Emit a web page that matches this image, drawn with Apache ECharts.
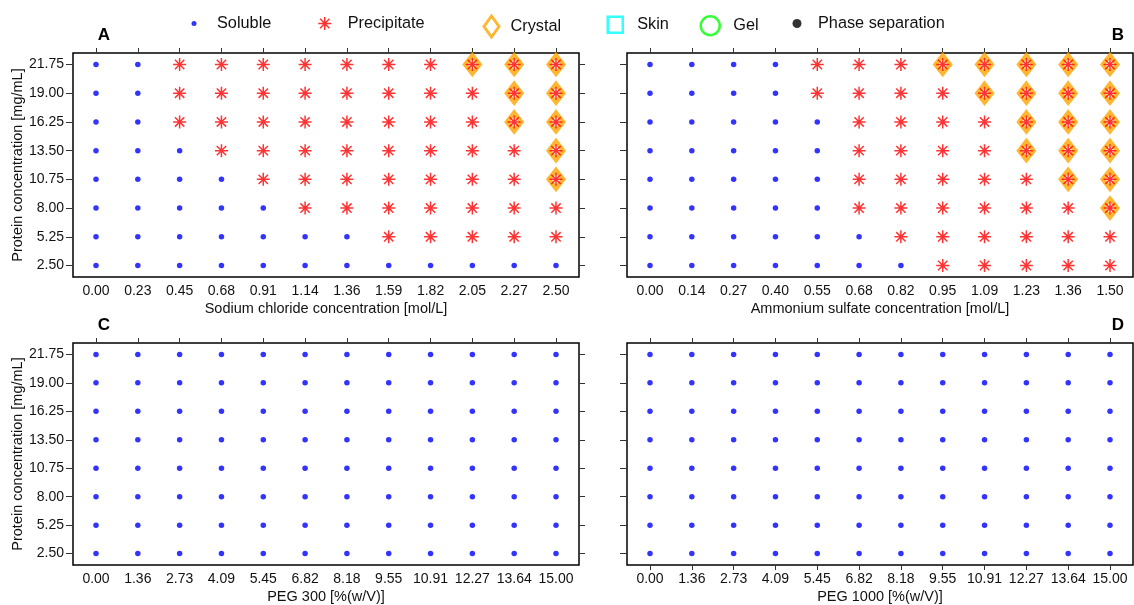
<!DOCTYPE html>
<html>
<head>
<meta charset="utf-8">
<script src="https://cdn.jsdelivr.net/npm/echarts@6/dist/echarts.min.js"></script>
<style>
  html, body { margin: 0; padding: 0; background: #fff; }
  #chart { width: 1134px; height: 605px; }
</style>
</head>
<body>
<div id="chart"></div>
<script>
// Protein concentration levels (rows, bottom to top)
const proteinLevels = ['2.50', '5.25', '8.00', '10.75', '13.50', '16.25', '19.00', '21.75'];

// Precipitant concentration levels (columns)
const naclLevels    = ['0.00', '0.23', '0.45', '0.68', '0.91', '1.14', '1.36', '1.59', '1.82', '2.05', '2.27', '2.50'];
const amso4Levels   = ['0.00', '0.14', '0.27', '0.40', '0.55', '0.68', '0.82', '0.95', '1.09', '1.23', '1.36', '1.50'];
const peg300Levels  = ['0.00', '1.36', '2.73', '4.09', '5.45', '6.82', '8.18', '9.55', '10.91', '12.27', '13.64', '15.00'];
const peg1000Levels = ['0.00', '1.36', '2.73', '4.09', '5.45', '6.82', '8.18', '9.55', '10.91', '12.27', '13.64', '15.00'];

// Observed outcome per well: 0 = soluble, 1 = precipitate, 2 = precipitate with crystals
// one row per protein level, bottom (2.50) to top (21.75)
const naclStates = [
  [0, 0, 0, 0, 0, 0, 0, 0, 0, 0, 0, 0],
  [0, 0, 0, 0, 0, 0, 0, 1, 1, 1, 1, 1],
  [0, 0, 0, 0, 0, 1, 1, 1, 1, 1, 1, 1],
  [0, 0, 0, 0, 1, 1, 1, 1, 1, 1, 1, 2],
  [0, 0, 0, 1, 1, 1, 1, 1, 1, 1, 1, 2],
  [0, 0, 1, 1, 1, 1, 1, 1, 1, 1, 2, 2],
  [0, 0, 1, 1, 1, 1, 1, 1, 1, 1, 2, 2],
  [0, 0, 1, 1, 1, 1, 1, 1, 1, 2, 2, 2]
];
const amso4States = [
  [0, 0, 0, 0, 0, 0, 0, 1, 1, 1, 1, 1],
  [0, 0, 0, 0, 0, 0, 1, 1, 1, 1, 1, 1],
  [0, 0, 0, 0, 0, 1, 1, 1, 1, 1, 1, 2],
  [0, 0, 0, 0, 0, 1, 1, 1, 1, 1, 2, 2],
  [0, 0, 0, 0, 0, 1, 1, 1, 1, 2, 2, 2],
  [0, 0, 0, 0, 0, 1, 1, 1, 1, 2, 2, 2],
  [0, 0, 0, 0, 1, 1, 1, 1, 2, 2, 2, 2],
  [0, 0, 0, 0, 1, 1, 1, 2, 2, 2, 2, 2]
];
const peg300States = [
  [0, 0, 0, 0, 0, 0, 0, 0, 0, 0, 0, 0],
  [0, 0, 0, 0, 0, 0, 0, 0, 0, 0, 0, 0],
  [0, 0, 0, 0, 0, 0, 0, 0, 0, 0, 0, 0],
  [0, 0, 0, 0, 0, 0, 0, 0, 0, 0, 0, 0],
  [0, 0, 0, 0, 0, 0, 0, 0, 0, 0, 0, 0],
  [0, 0, 0, 0, 0, 0, 0, 0, 0, 0, 0, 0],
  [0, 0, 0, 0, 0, 0, 0, 0, 0, 0, 0, 0],
  [0, 0, 0, 0, 0, 0, 0, 0, 0, 0, 0, 0]
];
const peg1000States = [
  [0, 0, 0, 0, 0, 0, 0, 0, 0, 0, 0, 0],
  [0, 0, 0, 0, 0, 0, 0, 0, 0, 0, 0, 0],
  [0, 0, 0, 0, 0, 0, 0, 0, 0, 0, 0, 0],
  [0, 0, 0, 0, 0, 0, 0, 0, 0, 0, 0, 0],
  [0, 0, 0, 0, 0, 0, 0, 0, 0, 0, 0, 0],
  [0, 0, 0, 0, 0, 0, 0, 0, 0, 0, 0, 0],
  [0, 0, 0, 0, 0, 0, 0, 0, 0, 0, 0, 0],
  [0, 0, 0, 0, 0, 0, 0, 0, 0, 0, 0, 0]
];

const FONT = '"Liberation Sans", Arial, Helvetica, sans-serif';
const BLUE = '#0000FF', RED = '#FF0000', ORANGE = '#FFA500';
const ASTERISK = 'path://M0,-1L0,1M-1,0L1,0M-0.72,-0.72L0.72,0.72M-0.72,0.72L0.72,-0.72';
const DIAMOND = 'path://M9,0L18,11L9,22L0,11Z';

const panels = [
  { letter: 'A', levels: naclLevels,    states: naclStates,    xName: 'Sodium chloride concentration [mol/L]', left: 73,  top: 53,  yLabels: true,  rightTicks: true,  bottomTicks: false },
  { letter: 'B', levels: amso4Levels,   states: amso4States,   xName: 'Ammonium sulfate concentration [mol/L]', left: 627, top: 53,  yLabels: false, rightTicks: false, bottomTicks: false },
  { letter: 'C', levels: peg300Levels,  states: peg300States,  xName: 'PEG 300 [%(w/V)]',                        left: 73,  top: 343, yLabels: true,  rightTicks: true,  bottomTicks: false },
  { letter: 'D', levels: peg1000Levels, states: peg1000States, xName: 'PEG 1000 [%(w/V)]',                       left: 627, top: 343, yLabels: false, rightTicks: false, bottomTicks: true }
];
const PW = 506, PH = 224;

const grids = [], xAxes = [], yAxes = [], series = [], titles = [];
const tickStyle = { color: '#333', width: 1 };
const labelStyle = { color: '#111', fontSize: 14, fontFamily: FONT };
const nameStyle = { color: '#111', fontSize: 14.5, fontFamily: FONT };

panels.forEach((p, i) => {
  const xIdx = p.levels.map((_, k) => k);
  const yIdx = proteinLevels.map((_, k) => k);
  grids.push({ left: p.left, top: p.top, width: PW, height: PH, show: true,
               borderColor: '#000', borderWidth: 1.5, backgroundColor: 'transparent' });

  // bottom axis: labels and name
  xAxes.push({
    gridIndex: i, type: 'value', position: 'bottom', min: -0.55, max: 11.55,
    axisLine: { show: false, onZero: false }, splitLine: { show: false },
    axisTick: { show: p.bottomTicks, customValues: xIdx, length: 5, lineStyle: tickStyle },
    axisLabel: { customValues: xIdx, margin: 7, formatter: v => p.levels[Math.round(v)], ...labelStyle },
    name: p.xName, nameLocation: 'middle', nameGap: 24, nameTextStyle: nameStyle
  });
  // top axis: tick marks only
  xAxes.push({
    gridIndex: i, type: 'value', position: 'top', min: -0.55, max: 11.55,
    axisLine: { show: false, onZero: false }, splitLine: { show: false },
    axisTick: { show: true, customValues: xIdx, length: 5, lineStyle: tickStyle },
    axisLabel: { show: false }
  });
  // left axis
  yAxes.push({
    gridIndex: i, type: 'value', position: 'left', min: -0.4, max: 7.4,
    axisLine: { show: false, onZero: false }, splitLine: { show: false },
    axisTick: { show: true, customValues: yIdx, length: 7, lineStyle: tickStyle },
    axisLabel: { show: p.yLabels, customValues: yIdx, margin: 9, formatter: v => proteinLevels[Math.round(v)], ...labelStyle },
    name: p.yLabels ? 'Protein concentration [mg/mL]' : '', nameLocation: 'middle', nameGap: 45,
    nameTextStyle: nameStyle
  });
  // right axis
  yAxes.push({
    gridIndex: i, type: 'value', position: 'right', min: -0.4, max: 7.4,
    axisLine: { show: false, onZero: false }, splitLine: { show: false },
    axisTick: { show: p.rightTicks, customValues: yIdx, length: 6, lineStyle: tickStyle },
    axisLabel: { show: false }
  });

  const soluble = [], precip = [], crystal = [];
  p.states.forEach((row, r) => row.forEach((s, c) => {
    if (s === 0) soluble.push([c, r]);
    if (s >= 1) precip.push([c, r]);
    if (s === 2) crystal.push([c, r]);
  }));

  const axes = { xAxisIndex: 2 * i, yAxisIndex: 2 * i };
  series.push({ name: 'Soluble', type: 'scatter', ...axes, data: soluble, symbol: 'circle', symbolSize: 5.5,
                itemStyle: { color: BLUE }, z: 2, silent: true });
  series.push({ name: 'Crystal', type: 'scatter', ...axes, data: crystal, symbol: DIAMOND, symbolSize: [14.5, 18.5],
                itemStyle: { color: 'rgba(255,255,255,0)', borderColor: ORANGE, borderWidth: 4.5 }, z: 3, silent: true });
  series.push({ name: 'Precipitate', type: 'scatter', ...axes, data: precip, symbol: ASTERISK, symbolSize: 13,
                itemStyle: { color: RED, borderColor: RED, borderWidth: 1.5 }, z: 4, silent: true });

  titles.push({ text: p.letter, left: p.left + (p.left === 73 ? 26 : 486), top: p.top - 23,
                textAlign: 'center', textVerticalAlign: 'middle',
                textStyle: { fontSize: 17, fontWeight: 'bold', color: '#000', fontFamily: FONT } });
});

// Outcome categories never observed here, kept for the shared legend
series.push({ name: 'Skin', type: 'scatter', xAxisIndex: 0, yAxisIndex: 0, data: [], symbol: 'rect',
              itemStyle: { color: 'rgba(255,255,255,0)', borderColor: '#00FFFF', borderWidth: 2.5 } });
series.push({ name: 'Gel', type: 'scatter', xAxisIndex: 0, yAxisIndex: 0, data: [], symbol: 'circle',
              itemStyle: { color: 'rgba(255,255,255,0)', borderColor: '#00FF00', borderWidth: 2.5 } });
series.push({ name: 'Phase separation', type: 'scatter', xAxisIndex: 0, yAxisIndex: 0, data: [], symbol: 'circle',
              itemStyle: { color: '#000' } });

// One legend block per entry so each sits at its own spot along the top
const legendItems = [
  { name: 'Soluble',          cx: 194, textX: 217, w: 5,  h: 5,  icon: 'circle', style: { color: BLUE } },
  { name: 'Precipitate',      cx: 324, textX: 347, w: 13, h: 13, icon: ASTERISK, style: { color: RED, borderColor: RED, borderWidth: 1.5 } },
  { name: 'Crystal',          cx: 490, textX: 509, w: 15, h: 21, icon: DIAMOND,  style: { color: 'rgba(255,255,255,0)', borderColor: ORANGE, borderWidth: 3 } },
  { name: 'Skin',             cx: 614, textX: 636, w: 15, h: 16, icon: 'rect',   style: { color: 'rgba(255,255,255,0)', borderColor: '#00FFFF', borderWidth: 2.5 } },
  { name: 'Gel',              cx: 709, textX: 732, w: 19, h: 20, icon: 'circle', style: { color: 'rgba(255,255,255,0)', borderColor: '#00FF00', borderWidth: 2.5 } },
  { name: 'Phase separation', cx: 797, textX: 818, w: 9,  h: 9,  icon: 'circle', style: { color: '#000' } }
];
const legends = legendItems.map(it => ({
  left: it.cx - it.w / 2, top: 25 - Math.max(it.h, 19) / 2, padding: 0, orient: 'horizontal',
  itemWidth: it.w, itemHeight: it.h, symbolKeepAspect: false, selectedMode: false,
  data: [{ name: it.name, icon: it.icon, itemStyle: it.style }],
  textStyle: { fontSize: 16.3, color: '#111', fontFamily: FONT,
               padding: [0, 0, 0, it.textX - (it.cx + it.w / 2) - 5] }
}));

const chart = echarts.init(document.getElementById('chart'), null, { renderer: 'canvas' });
chart.setOption({
  backgroundColor: '#fff',
  animation: false,
  title: titles,
  legend: legends,
  grid: grids,
  xAxis: xAxes,
  yAxis: yAxes,
  series: series
});
</script>
</body>
</html>
